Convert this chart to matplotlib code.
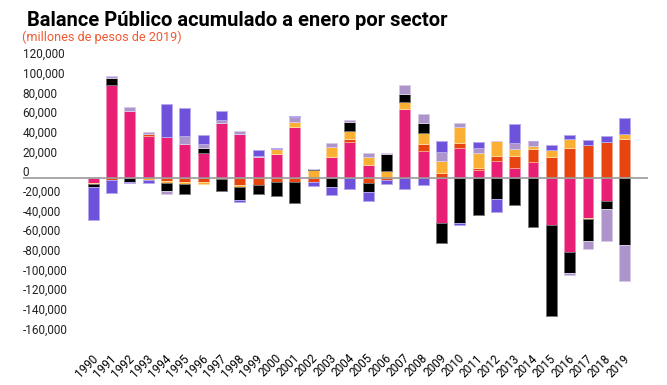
import numpy as np
import matplotlib.pyplot as plt
from matplotlib.transforms import blended_transform_factory, ScaledTranslation

plt.rcParams['font.family'] = ['Roboto', 'DejaVu Sans']

years = [str(y) for y in range(1990, 2020)]

# balances by sector, thousands of millones de pesos de 2019
rosa = [-4.7, 94.9, 68.5, 43.0, 41.7, 34.9, 25.4, 55.9, 45.4, 21.4,
        24.4, 52.2, 0.0, 21.4, 37.3, 13.6, 0.0, 70.5, 28.1, -45.8,
        31.2, 8.1, 17.6, 10.2, 16.3, -47.1, -74.9, -40.3, -23.0, 1.2]
rojo = [0.0, -1.5, 0.0, 2.0, -2.7, -3.7, -3.7, 0.0, -6.6, -6.4,
        -4.1, -4.1, -4.1, 0.0, 2.7, -4.8, -2.0, 0.0, 6.8, 5.4,
        5.1, 2.7, 5.4, 12.5, 13.2, 22.0, 31.2, 33.9, 37.0, 38.6]
naranja = [-1.0, 0.0, 0.0, -1.4, -1.7, -1.7, -1.7, -1.0, -2.4, 0.0,
           5.1, 5.4, 8.5, 10.8, 8.1, 8.1, 7.5, 6.8, 10.8, 12.2,
           15.9, 14.6, 14.6, 7.1, 3.0, 6.8, 9.2, -1.0, 0.0, 5.4]
negro = [-2.7, 6.8, -3.7, 0.0, -8.8, -10.5, 5.4, -11.5, -13.5, -9.5,
         -14.4, -21.4, 1.4, -9.2, 9.5, -9.3, 17.0, 8.5, 10.5, -19.7,
         -45.8, -37.6, -20.7, -26.8, -49.5, -92.9, -21.0, -22.7, -7.8, -68.1]
lila = [0.0, 2.0, 3.5, 2.0, -2.7, 8.1, 4.1, 3.4, 2.7, 1.7,
        0.0, 4.4, 0.0, 4.1, 1.7, 3.7, 1.4, 9.2, 9.2, 9.5,
        4.1, 5.4, 0.0, 6.4, 5.1, 0.0, -2.7, -7.8, -33.2, -35.9]
violeta = [-33.9, -13.0, -1.4, -3.7, 33.6, 28.1, 9.5, 8.8, -1.2, 5.4,
           1.4, 1.4, -3.7, -7.8, -10.8, -9.5, -4.0, -10.8, -6.4, 10.5,
           -2.0, 5.8, -13.2, 19.0, 0.0, 4.7, 3.7, 5.1, 6.1, 15.9]

series = [rosa, rojo, naranja, negro, lila, violeta]
colors = ['#E91E75', '#E8440F', '#FBB034', '#000000', '#AD94CB', '#6E52DC']
edges = ['#F48FBA', '#F4A287', '#FDD89A', '#777777', '#D6CAE5', '#B7A9EE']

fig = plt.figure(figsize=(6.67, 3.85), dpi=100)
ax = fig.add_axes([22.7 / 667, 1 - 335.6 / 385, (648 - 22.7) / 667, (335.6 - 60.3) / 385])

x = np.arange(len(years))
pos_bottom = np.zeros(len(years))
neg_bottom = np.zeros(len(years))
for vals, c, e in zip(series, colors, edges):
    v = np.array(vals) * 1000
    bottom = np.where(v >= 0, pos_bottom, neg_bottom)
    ax.bar(x, v, 0.59, bottom=bottom, color=c, edgecolor=e, linewidth=0.7, zorder=2)
    pos_bottom += np.clip(v, 0, None)
    neg_bottom += np.clip(v, None, 0)

ax.axhline(0, color='#999999', lw=1.2, zorder=3)
ax.set_xlim(-3.846, 30.27)
ax.set_ylim(-160000, 120000)
for s in ax.spines.values():
    s.set_visible(False)
ax.set_yticks([])

# y labels sit just above their level
tr = blended_transform_factory(ax.transAxes, ax.transData) + ScaledTranslation(0, 5.6 / 100, fig.dpi_scale_trans)
for t in range(-160000, 120001, 20000):
    ax.text(0, t, f"{t:,}", transform=tr, ha='left', va='center', fontsize=8.5, color='#222222')

ax.set_xticks(x)
ax.set_xticklabels(years, rotation=45, ha='right', va='center', rotation_mode='anchor', fontsize=8.5)
ax.tick_params(axis='x', length=0, pad=15)
off = ScaledTranslation(2.6 / 100, 0, fig.dpi_scale_trans)
for lab in ax.get_xticklabels():
    lab.set_transform(lab.get_transform() + off)

fig.text(27 / 667, 1 - 26 / 385, 'Balance Público acumulado a enero por sector', fontsize=14.5,
         fontweight='bold', ha='left', va='baseline', color='#000000')
fig.text(22 / 667, 1 - 40.5 / 385, '(millones de pesos de 2019)', fontsize=9.1,
         ha='left', va='baseline', color='#F05A32')

fig.savefig('out.png', dpi=100)
